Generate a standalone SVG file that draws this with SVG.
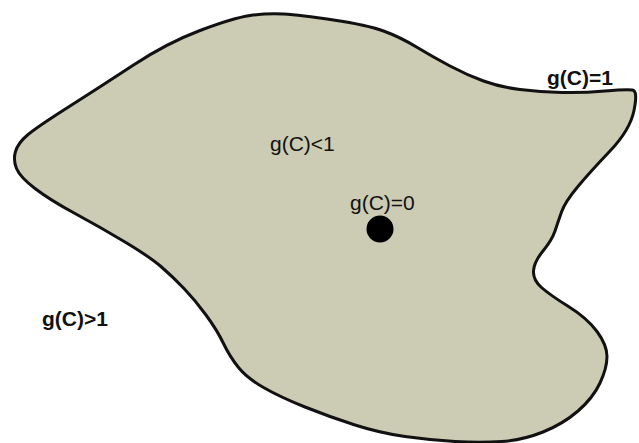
<svg xmlns="http://www.w3.org/2000/svg" width="639" height="443" viewBox="0 0 639 443">
<style>
.lbl{font-family:"Liberation Sans",Arial,sans-serif;font-size:21px;fill:#111}
.b{font-weight:bold}
.region{fill:#cccbb4;stroke:#111;stroke-width:3;stroke-linejoin:round}
</style>
<rect width="639" height="443" fill="#ffffff"/>
<g id="region">
<path class="region" d="M283.5,14 Q300,15 333.5,20 Q367,25 383.5,31 Q400,37 416.5,47 Q433,57 450,66 Q467,75 483.5,81 Q500,87 520,89.5 Q540,92 561.5,92.5 Q583,93 605,91 Q627,89 632.5,90 Q638,91 634,110.5 Q630,130 610,151 Q590,172 577.5,187 Q565,202 561.5,212 Q558,222 555,231 Q552,240 543,251 Q534,262 533.5,271 Q533,280 541.5,287.5 Q550,295 568.5,306.5 Q587,318 597,331.5 Q607,345 607,356.5 Q607,368 600,383 Q593,398 578,411 Q563,424 543,432 Q523,440 501.5,441.5 Q480,443 455,441.5 Q430,440 405,436.5 Q380,433 355,425 Q330,417 305,407 Q280,397 263.5,387.5 Q247,378 238.5,367.5 Q230,357 223.5,343.5 Q217,330 206,315 Q195,300 184,288.5 Q173,277 161.5,267 Q150,257 125,242 Q100,227 75,213.5 Q50,200 35,188.5 Q20,177 16.5,168.5 Q13,160 15.5,151.5 Q18,143 27.5,135 Q37,127 68.5,107 Q100,87 133.5,65 Q167,43 200,30.5 Q233,18 250,15.5 Q267,13 283.5,14 Z"/>
</g>
<g id="origin">
<circle cx="380" cy="229" r="13.5" fill="#000"/>
</g>
<g id="labels">
<text class="lbl b" x="547" y="85">g(C)=1</text>
<text class="lbl" x="270" y="151">g(C)&lt;1</text>
<text class="lbl" x="350" y="210">g(C)=0</text>
<text class="lbl b" x="42" y="326">g(C)&gt;1</text>
</g>
</svg>
